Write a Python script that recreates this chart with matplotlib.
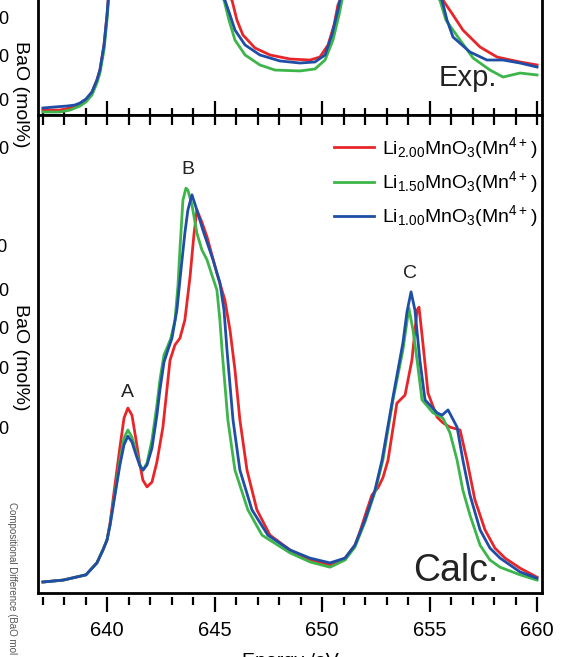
import matplotlib
matplotlib.use('Agg')
import matplotlib.pyplot as plt
from matplotlib.ticker import MultipleLocator

plt.rcParams['font.family'] = ['Liberation Sans', 'DejaVu Sans']
plt.rcParams['mathtext.fontset'] = 'custom'
plt.rcParams['mathtext.rm'] = 'Liberation Sans'
plt.rcParams['mathtext.default'] = 'regular'

RED = '#e8262a'
GREEN = '#3db54a'
BLUE = '#1f4ea6'

labels = [r'Li$_{2.00}$MnO$_3$(Mn$^{4+}$)',
          r'Li$_{1.50}$MnO$_3$(Mn$^{4+}$)',
          r'Li$_{1.00}$MnO$_3$(Mn$^{4+}$)']

# ---- calculated spectra (bottom panel), normalised intensity ----
e_calc_red = [637.02, 637.96, 639.02, 639.53, 639.81, 640.00, 640.14, 640.37, 640.60, 640.79,
              640.97, 641.16, 641.35, 641.53, 641.67, 641.86, 642.09, 642.32, 642.60, 642.93,
              643.16, 643.39, 643.62, 643.86, 644.04, 644.18, 644.41, 644.65, 645.11, 645.48,
              645.72, 645.95, 646.18, 646.51, 646.97, 647.58, 648.51, 649.44, 650.37, 651.07,
              651.53, 651.76, 652.09, 652.32, 652.60, 652.83, 653.07, 653.48, 653.86, 654.18,
              654.42, 654.51, 654.69, 654.93, 655.35, 655.62, 655.95, 656.42, 656.74, 657.11,
              657.58, 658.04, 658.51, 659.21, 660.00]
i_calc_red = [0.023, 0.027, 0.038, 0.063, 0.090, 0.111, 0.146, 0.226, 0.305, 0.366,
              0.387, 0.372, 0.320, 0.268, 0.236, 0.222, 0.232, 0.274, 0.347, 0.487,
              0.519, 0.533, 0.571, 0.661, 0.749, 0.801, 0.776, 0.745, 0.669, 0.613,
              0.550, 0.467, 0.362, 0.257, 0.174, 0.121, 0.090, 0.069, 0.059, 0.073,
              0.100, 0.128, 0.174, 0.205, 0.220, 0.241, 0.278, 0.397, 0.414, 0.487,
              0.592, 0.598, 0.523, 0.418, 0.368, 0.356, 0.347, 0.341, 0.278, 0.195,
              0.132, 0.094, 0.073, 0.052, 0.033]

e_calc_green = [637.02, 637.96, 639.02, 639.53, 639.81, 640.00, 640.14, 640.37, 640.60, 640.79,
                640.97, 641.16, 641.35, 641.53, 641.67, 641.86, 642.09, 642.32, 642.46, 642.65,
                642.79, 642.97, 643.16, 643.30, 643.39, 643.53, 643.67, 643.76, 643.95, 644.18,
                644.41, 644.65, 644.88, 645.11, 645.25, 645.35, 645.62, 645.95, 646.55, 647.21,
                648.51, 649.44, 650.37, 651.07, 651.53, 652.00, 652.46, 652.83, 653.30, 653.76,
                654.04, 654.23, 654.42, 654.65, 655.16, 655.62, 655.95, 656.28, 656.55, 656.88,
                657.35, 657.81, 658.28, 659.21, 660.00]
i_calc_green = [0.023, 0.027, 0.038, 0.063, 0.090, 0.111, 0.142, 0.209, 0.278, 0.324,
                0.341, 0.326, 0.295, 0.268, 0.257, 0.272, 0.320, 0.393, 0.446, 0.498,
                0.513, 0.533, 0.571, 0.644, 0.718, 0.822, 0.847, 0.843, 0.812, 0.753,
                0.718, 0.697, 0.665, 0.634, 0.571, 0.508, 0.362, 0.257, 0.174, 0.121,
                0.084, 0.065, 0.054, 0.069, 0.096, 0.149, 0.211, 0.278, 0.404, 0.508,
                0.596, 0.550, 0.487, 0.404, 0.377, 0.366, 0.335, 0.278, 0.215, 0.163,
                0.100, 0.069, 0.054, 0.038, 0.027]

e_calc_blue = [637.02, 637.96, 639.02, 639.53, 639.81, 640.00, 640.14, 640.37, 640.60, 640.79,
               640.97, 641.16, 641.35, 641.53, 641.67, 641.86, 642.09, 642.32, 642.46, 642.65,
               642.83, 643.02, 643.25, 643.44, 643.62, 643.76, 643.95, 644.18, 644.46, 644.93,
               645.25, 645.44, 645.58, 645.86, 646.18, 646.74, 647.48, 648.51, 649.44, 650.37,
               651.07, 651.53, 652.00, 652.46, 652.79, 653.30, 653.76, 653.95, 654.14, 654.32,
               654.55, 654.79, 655.35, 655.58, 655.86, 656.28, 656.55, 656.88, 657.35, 657.81,
               658.28, 659.21, 660.00]
i_calc_blue = [0.023, 0.027, 0.038, 0.063, 0.090, 0.111, 0.142, 0.205, 0.268, 0.310,
               0.328, 0.316, 0.289, 0.266, 0.257, 0.268, 0.303, 0.372, 0.425, 0.483,
               0.508, 0.533, 0.592, 0.676, 0.753, 0.801, 0.833, 0.801, 0.759, 0.697,
               0.649, 0.592, 0.508, 0.362, 0.257, 0.174, 0.121, 0.090, 0.073, 0.063,
               0.073, 0.100, 0.153, 0.215, 0.278, 0.410, 0.523, 0.588, 0.630, 0.592,
               0.487, 0.404, 0.377, 0.372, 0.383, 0.347, 0.278, 0.205, 0.132, 0.094,
               0.073, 0.044, 0.031]

# ---- experimental spectra (top panel, only lower part visible) ----
e_exp_red = [637.02, 637.81, 638.28, 638.74, 639.02, 639.30, 639.53, 639.67, 639.86, 640.00,
             640.09, 642.5, 645.81, 646.04, 646.32, 646.88, 647.58, 648.51, 649.44, 649.90,
             650.28, 650.56, 650.74, 652.0, 655.62, 656.09, 656.55, 657.35, 658.14, 659.21, 660.00]
i_exp_red = [0.043, 0.043, 0.061, 0.096, 0.130, 0.200, 0.304, 0.391, 0.609, 0.870,
             1.087, 1.6, 1.0, 0.826, 0.696, 0.583, 0.522, 0.487, 0.478, 0.504,
             0.609, 0.783, 0.957, 1.5, 1.0, 0.870, 0.739, 0.591, 0.504, 0.461, 0.435]

e_exp_green = [637.02, 637.81, 638.28, 638.74, 639.02, 639.30, 639.53, 639.67, 639.86, 640.00,
               640.09, 642.5, 645.44, 645.67, 645.95, 646.42, 647.11, 647.81, 648.97, 649.67,
               650.14, 650.51, 650.79, 650.93, 652.0, 655.48, 655.76, 656.42, 657.02, 657.81,
               658.42, 659.21, 660.00]
i_exp_green = [0.026, 0.026, 0.043, 0.078, 0.113, 0.174, 0.278, 0.365, 0.565, 0.826,
               1.043, 1.6, 1.0, 0.826, 0.652, 0.522, 0.435, 0.391, 0.383, 0.400,
               0.478, 0.652, 0.870, 1.0, 1.5, 1.0, 0.826, 0.652, 0.496, 0.391,
               0.330, 0.365, 0.348]

e_exp_blue = [637.02, 637.58, 638.14, 638.51, 638.74, 639.02, 639.30, 639.53, 639.67, 639.86,
              640.00, 640.09, 642.5, 645.48, 645.72, 645.95, 646.42, 647.11, 648.04, 648.97,
              649.67, 650.14, 650.46, 650.74, 650.88, 652.0, 655.58, 655.81, 656.09, 656.88,
              657.67, 658.42, 659.21, 660.00]
i_exp_blue = [0.061, 0.070, 0.078, 0.087, 0.104, 0.139, 0.200, 0.304, 0.391, 0.609,
              0.870, 1.087, 1.6, 1.0, 0.870, 0.739, 0.609, 0.522, 0.470, 0.452,
              0.461, 0.522, 0.696, 0.913, 1.04, 1.5, 1.0, 0.826, 0.678, 0.548,
              0.478, 0.478, 0.452, 0.417]

fig = plt.figure(figsize=(5.62, 6.57), dpi=100)
W, H = 562.0, 657.0
x0, x1 = 38 / W, 542 / W
y_split = 1 - 115 / H
y_bot = 1 - 593 / H

ax_top = fig.add_axes([x0, y_split, x1 - x0, 1 - y_split])
ax = fig.add_axes([x0, y_bot, x1 - x0, y_split - y_bot])

xlim = (636.79, 660.23)
lw = 2.0

for a in (ax_top, ax):
    a.set_xlim(*xlim)
    a.set_ylim(0, 1)
    a.set_yticks([])
    a.xaxis.set_major_locator(MultipleLocator(5))
    a.xaxis.set_minor_locator(MultipleLocator(1))
    for s in a.spines.values():
        s.set_linewidth(2.0)

# top panel
ax_top.plot(e_exp_red, i_exp_red, color=RED, lw=lw)
ax_top.plot(e_exp_green, i_exp_green, color=GREEN, lw=lw)
ax_top.plot(e_exp_blue, i_exp_blue, color=BLUE, lw=lw)
ax_top.spines['top'].set_visible(False)
ax_top.tick_params(axis='x', which='both', direction='in', labelbottom=False, width=1.6)
ax_top.tick_params(axis='x', which='major', length=10)
ax_top.tick_params(axis='x', which='minor', length=5)
ax_top.text(656.79, 0.32, 'Exp.', fontsize=21, color='#222222', ha='center', va='center')

# bottom panel
ax.plot(e_calc_red, i_calc_red, color=RED, lw=lw, label=labels[0])
ax.plot(e_calc_green, i_calc_green, color=GREEN, lw=lw, label=labels[1])
ax.plot(e_calc_blue, i_calc_blue, color=BLUE, lw=lw, label=labels[2])

ax.tick_params(axis='x', which='both', direction='out', top=False, width=1.6,
               labelsize=14.5, pad=6)
ax.tick_params(axis='x', which='major', length=11)
ax.tick_params(axis='x', which='minor', length=6)

# tick marks on the top edge of the bottom panel point inwards
sec = ax.secondary_xaxis('top')
sec.xaxis.set_major_locator(MultipleLocator(5))
sec.xaxis.set_minor_locator(MultipleLocator(1))
sec.tick_params(axis='x', which='both', direction='in', length=7, width=1.6, labeltop=False)
sec.spines['top'].set_visible(False)

ax.spines['bottom'].set_position(('outward', 3))
ax.spines['bottom'].set_visible(False)
ax.plot([0, 1], [0, 0], transform=ax.transAxes, color='black', lw=2.0, clip_on=False)

ax.text(640.93, 0.42, 'A', fontsize=14, ha='center', va='center', color='#222222')
ax.text(643.76, 0.885, 'B', fontsize=14, ha='center', va='center', color='#222222')
ax.text(654.09, 0.669, 'C', fontsize=14, ha='center', va='center', color='#222222')
ax.text(656.23, 0.045, 'Calc.', fontsize=27, ha='center', va='center', color='#222222')

ax.legend(loc='upper right', bbox_to_anchor=(1.014, 0.982), frameon=False, fontsize=14,
          handlelength=2.05, handletextpad=0.4, labelspacing=0.42, borderaxespad=0.2)

fig.text(290 / W, 1 - 662 / H, 'Energy /eV', fontsize=14, ha='center', va='center')

# fragments of the neighbouring figure on the left edge
fig.text(20 / W, 1 - 94 / H, 'BaO (mol%)', rotation=-90, fontsize=14, ha='center', va='center')
fig.text(20 / W, 1 - 357 / H, 'BaO (mol%)', rotation=-90, fontsize=14, ha='center', va='center')
fig.text(12 / W, 1 - 578 / H, 'Compositional Difference (BaO mol', rotation=-90, fontsize=7,
         ha='center', va='center', color='#555555')
for yy, s in [(19, '0'), (57, '0'), (101, '0'), (149, '0'), (248, '00'), (292, '0'),
              (330, '0'), (369, '0'), (429, '0')]:
    fig.text(8 / W, 1 - yy / H, s, fontsize=13, ha='right', va='center')

fig.savefig('out.png', dpi=100)
